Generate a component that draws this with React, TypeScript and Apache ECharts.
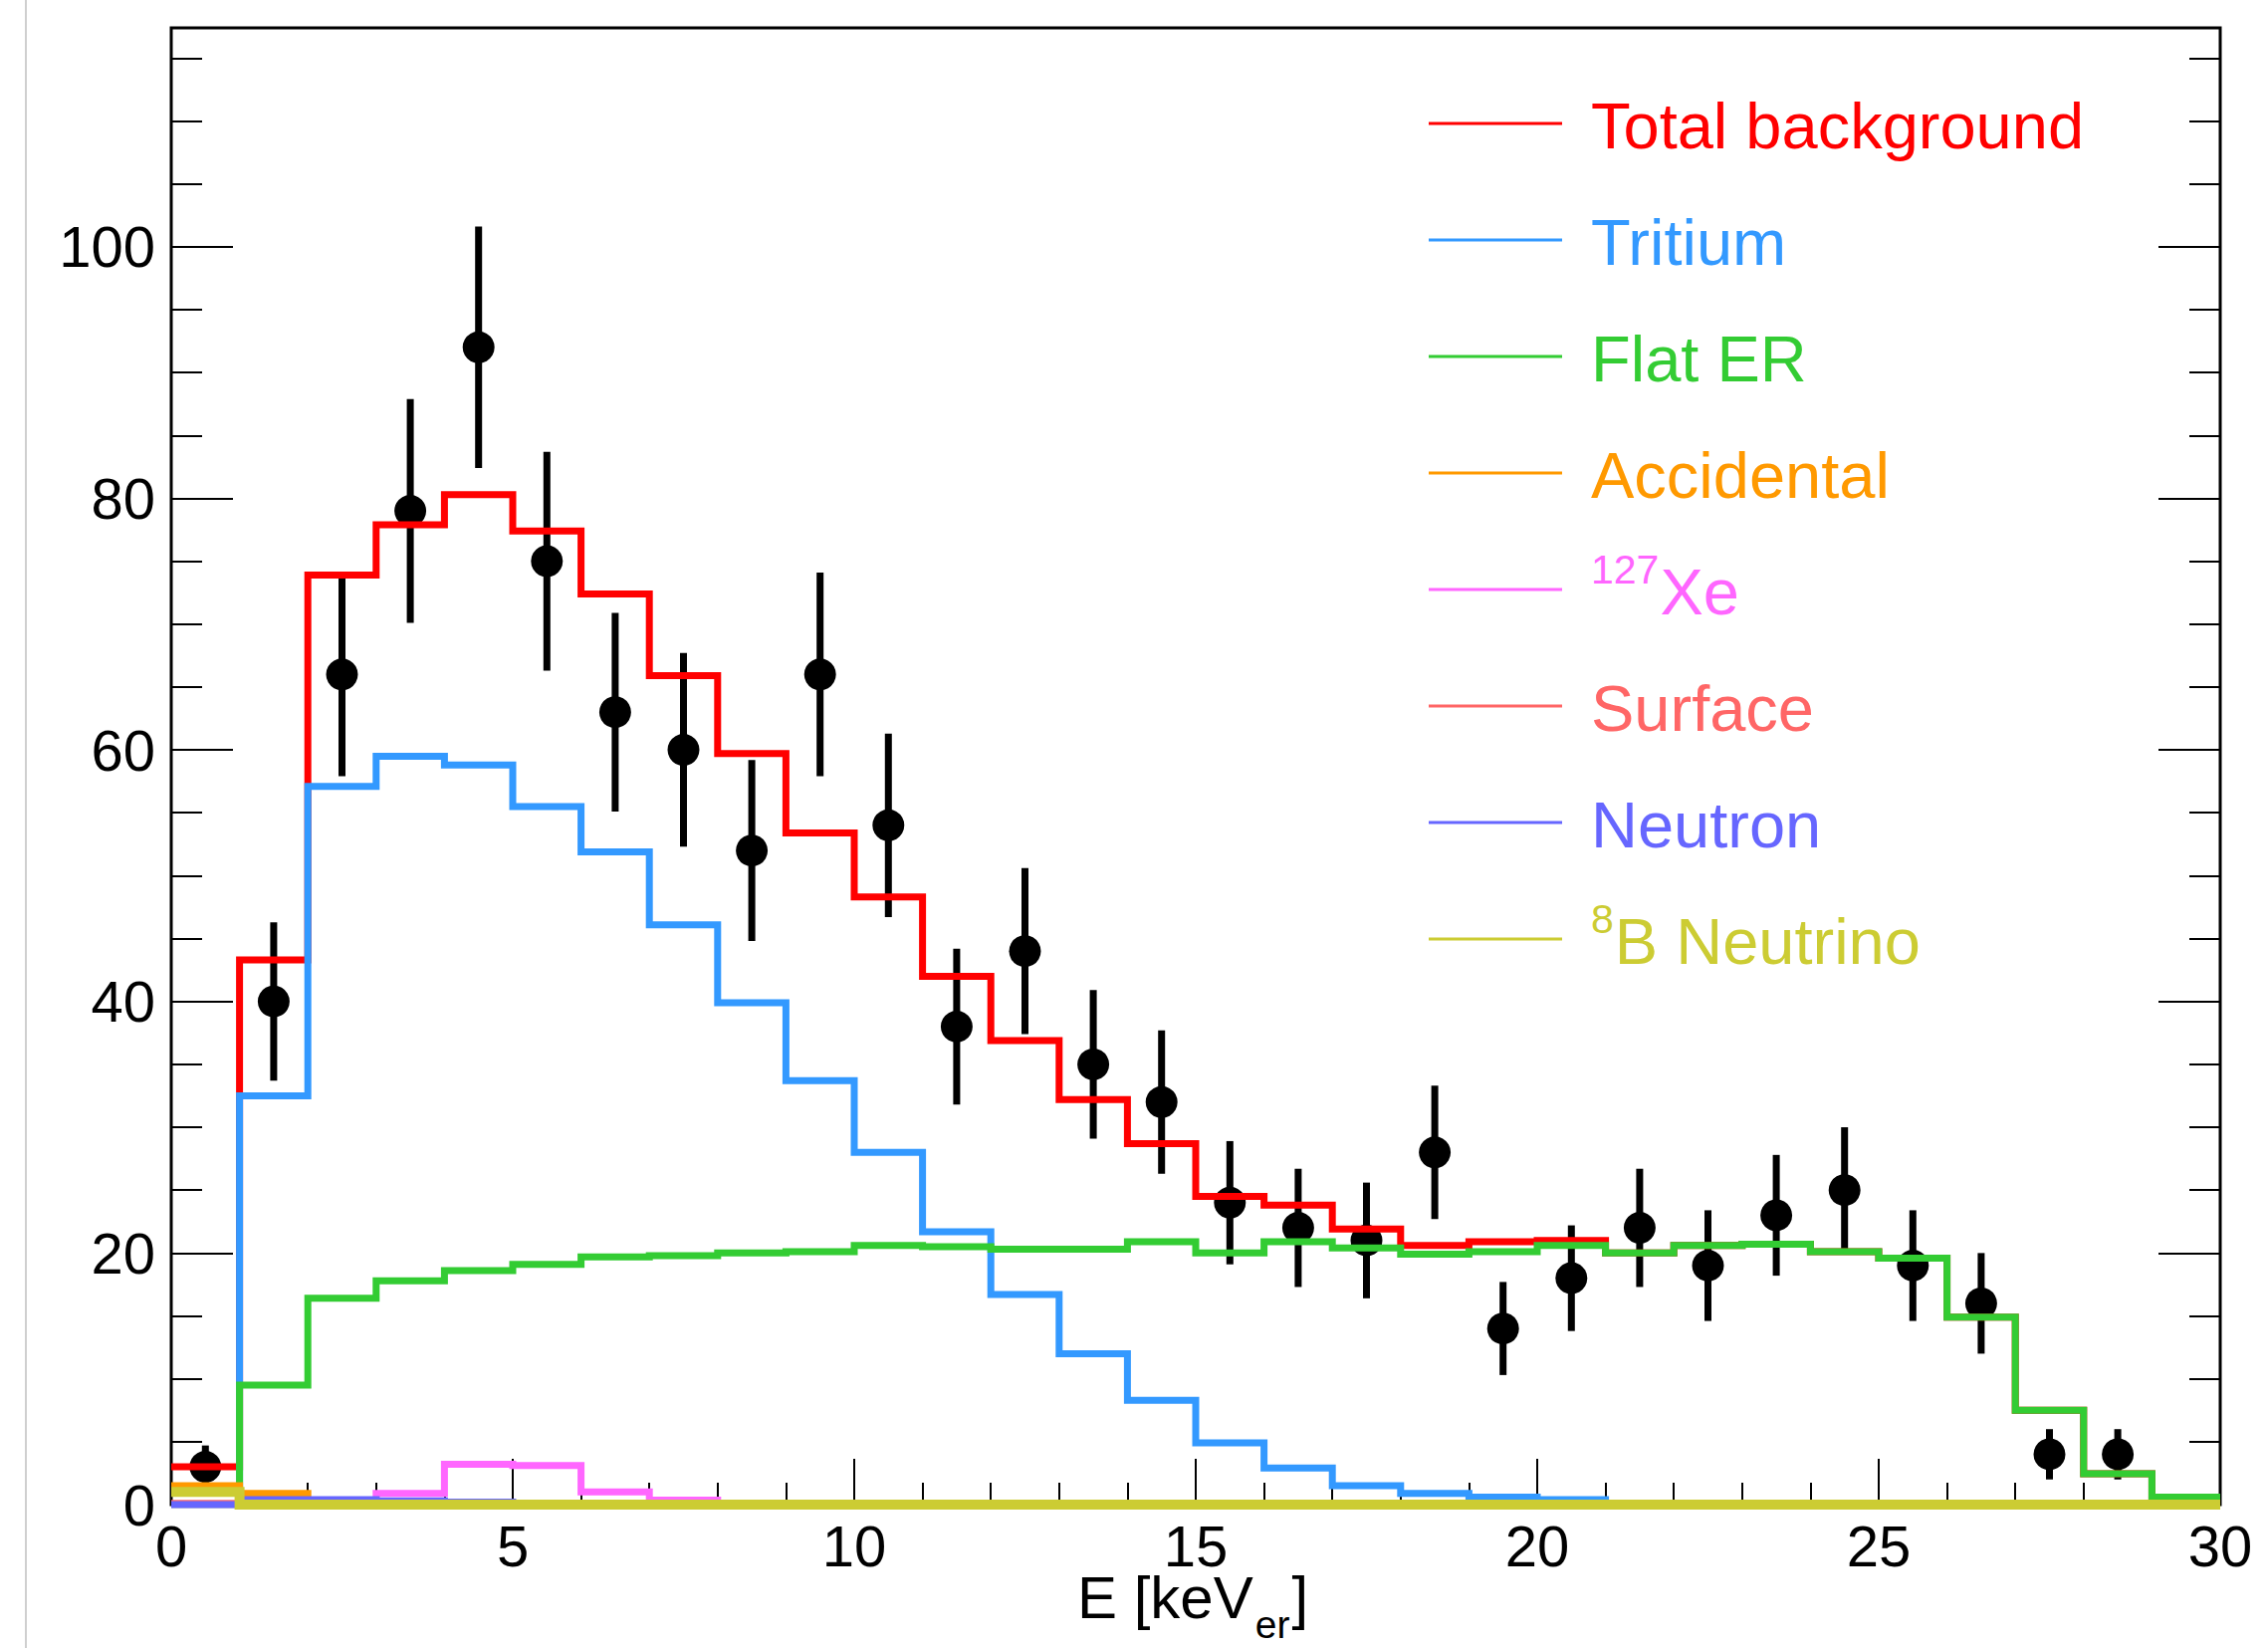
import React, { useEffect, useRef } from "react";
import * as echarts from "echarts";

// ---------------- data ----------------
const binEdges = [0, 1, 2, 3, 4, 5, 6, 7, 8, 9, 10, 11, 12, 13, 14, 15, 16, 17, 18, 19, 20, 21, 22, 23, 24, 25, 26, 27, 28, 29, 30];

const totalBackground = [3.0, 43.3, 73.9, 77.9, 80.3, 77.4, 72.4, 65.9, 59.7, 53.4, 48.3, 42.0, 36.9, 32.2, 28.7, 24.5, 23.8, 21.9, 20.6, 20.9, 21.0, 20.0, 20.6, 20.7, 20.1, 19.6, 14.9, 7.5, 2.45, 0.6];
const tritium = [0, 32.5, 57.1, 59.5, 58.8, 55.5, 51.9, 46.1, 39.9, 33.7, 28.0, 21.7, 16.7, 12.0, 8.3, 4.9, 2.9, 1.5, 0.9, 0.6, 0.4, 0, 0, 0, 0, 0, 0, 0, 0, 0];
const flatER = [0, 9.5, 16.4, 17.8, 18.6, 19.1, 19.7, 19.8, 20.0, 20.1, 20.6, 20.5, 20.3, 20.3, 20.9, 20.0, 20.9, 20.4, 19.9, 20.1, 20.6, 20.0, 20.6, 20.7, 20.1, 19.6, 14.9, 7.5, 2.45, 0.6];
const accidental = [1.5, 0.9, 0, 0, 0, 0, 0, 0, 0, 0, 0, 0, 0, 0, 0, 0, 0, 0, 0, 0, 0, 0, 0, 0, 0, 0, 0, 0, 0, 0];
const xe127 = [0, 0, 0, 0.9, 3.2, 3.1, 1.0, 0.35, 0, 0, 0, 0, 0, 0, 0, 0, 0, 0, 0, 0, 0, 0, 0, 0, 0, 0, 0, 0, 0, 0];
const surface = [0.1, 0.1, 0.1, 0.1, 0.1, 0.1, 0.1, 0.1, 0.1, 0.1, 0.1, 0.1, 0.1, 0.1, 0.1, 0.1, 0.1, 0.1, 0.1, 0.1, 0.1, 0.1, 0.1, 0.1, 0.1, 0.1, 0.1, 0.1, 0.1, 0.1];
const neutron = [0, 0.4, 0.4, 0.3, 0.2, 0.1, 0.1, 0.1, 0.05, 0.05, 0, 0, 0, 0, 0, 0, 0, 0, 0, 0, 0, 0, 0, 0, 0, 0, 0, 0, 0, 0];
const b8Neutrino = [1.0, 0, 0, 0, 0, 0, 0, 0, 0, 0, 0, 0, 0, 0, 0, 0, 0, 0, 0, 0, 0, 0, 0, 0, 0, 0, 0, 0, 0, 0];

const dataCenters = [0.5, 1.5, 2.5, 3.5, 4.5, 5.5, 6.5, 7.5, 8.5, 9.5, 10.5, 11.5, 12.5, 13.5, 14.5, 15.5, 16.5, 17.5, 18.5, 19.5, 20.5, 21.5, 22.5, 23.5, 24.5, 25.5, 26.5, 27.5, 28.5];
const dataCounts = [3, 40, 66, 79, 92, 75, 63, 60, 52, 66, 54, 38, 44, 35, 32, 24, 22, 21, 28, 14, 18, 22, 19, 23, 25, 19, 16, 4, 4];
const dataErrors = [1.7, 6.3, 8.1, 8.9, 9.6, 8.7, 7.9, 7.7, 7.2, 8.1, 7.3, 6.2, 6.6, 5.9, 5.7, 4.9, 4.7, 4.6, 5.3, 3.7, 4.2, 4.7, 4.4, 4.8, 5.0, 4.4, 4.0, 2.0, 2.0];

const legendLabels = ["Total background", "Tritium", "Flat ER", "Accidental", "Xe", "Surface", "Neutron", "B Neutrino"];
const legendSups = ["", "", "", "", "127", "", "", "8"];

const xAxisTitleMain = "E [keV";
const xAxisTitleSub = "er";
const xAxisTitleEnd = "]";

// ---------------- styles ----------------
const FONT = "'Liberation Sans', Arial, Helvetica, sans-serif";
const COLORS = ["#ff0000", "#3399ff", "#33cc33", "#ff9900", "#ff66ff", "#ff6666", "#6666ff", "#cccc33"];
const HIST_VALUES = [totalBackground, tritium, flatER, accidental, xe127, surface, neutron, b8Neutrino];
const HIST_WIDTHS = [7, 7, 7, 7, 7, 7, 7, 10];

const GRID = { left: 172, top: 28, width: 2058, height: 1483 };

function stepData(vals: number[]) {
  return binEdges.map((e, i) => [e, vals[Math.min(i, vals.length - 1)]]);
}

function measure(text: string, font: string, fallbackEm: number, size: number) {
  try {
    const ctx = document.createElement("canvas").getContext("2d");
    if (ctx) {
      ctx.font = font;
      return ctx.measureText(text).width;
    }
  } catch (e) {
    /* ignore */
  }
  return fallbackEm * size;
}

function txt(x: number, y: number, text: string, color: string, size: number, lineHeight?: number) {
  const style: any = {
    text,
    fill: color,
    font: `${size}px ${FONT}`,
    textAlign: "left",
    textVerticalAlign: "middle",
    align: "left",
    verticalAlign: "middle",
  };
  if (lineHeight) style.lineHeight = lineHeight;
  return { type: "text", z: 20, x, y, style };
}

function buildOption() {
  const histSeries = HIST_VALUES.map((vals, k) => ({
    type: "line",
    name: legendSups[k] + legendLabels[k],
    data: stepData(vals),
    step: "end",
    symbol: "none",
    showSymbol: false,
    silent: true,
    color: COLORS[k],
    itemStyle: { color: COLORS[k] },
    lineStyle: { color: COLORS[k], width: HIST_WIDTHS[k], join: "miter", cap: "butt" },
    z: 3,
    xAxisIndex: 0,
    yAxisIndex: 0,
  }));

  const errorData = dataCenters.map((c, i) => [c, dataCounts[i], dataErrors[i]]);

  const errorSeries = {
    type: "custom",
    name: "Data errors",
    silent: true,
    z: 2,
    xAxisIndex: 0,
    yAxisIndex: 0,
    encode: { x: 0, y: 1 },
    data: errorData,
    renderItem: (params: any, api: any) => {
      const x = api.value(0);
      const y = api.value(1);
      const e = api.value(2);
      const top = api.coord([x, y + e]);
      const bot = api.coord([x, y - e]);
      return {
        type: "line",
        shape: { x1: top[0], y1: top[1], x2: bot[0], y2: bot[1] },
        style: { stroke: "#000", lineWidth: 7, lineCap: "butt" },
      };
    },
  };

  const pointSeries = {
    type: "scatter",
    name: "Data",
    silent: true,
    z: 2,
    symbol: "circle",
    symbolSize: 32,
    itemStyle: { color: "#000", opacity: 1 },
    data: dataCenters.map((c, i) => [c, dataCounts[i]]),
  };

  const tickStyle = { color: "#000", width: 2 };
  const yBase = {
    type: "value",
    min: 0,
    max: 117.4,
    axisLine: { show: false },
    splitLine: { show: false },
    minorSplitLine: { show: false },
  };

  const legendGraphics: any[] = [];
  legendLabels.forEach((label, i) => {
    const rowY = 126 + 117 * i;
    const color = COLORS[i];
    legendGraphics.push({
      type: "line",
      z: 20,
      shape: { x1: 1435, y1: rowY - 2, x2: 1569, y2: rowY - 2 },
      style: { stroke: color, lineWidth: 3 },
    });
    const sup = legendSups[i];
    let textX = 1598;
    if (sup) {
      legendGraphics.push(txt(1598, rowY - 22, sup, color, 41));
      textX = 1598 + measure(sup, `41px ${FONT}`, 0.556 * sup.length, 41) + 1;
    }
    legendGraphics.push(txt(textX, rowY, label, color, 65));
  });

  // x-axis title with subscript
  const titleLeft = 1082;
  const mainW = measure(xAxisTitleMain, `60px ${FONT}`, 2.946, 60);
  const subW = measure(xAxisTitleSub, `39px ${FONT}`, 0.889, 39);
  const titleGraphics = [
    txt(titleLeft, 1604, xAxisTitleMain, "#000", 60, 44),
    txt(titleLeft + mainW + 2, 1631, xAxisTitleSub, "#000", 39, 26),
    txt(titleLeft + mainW + subW + 4, 1604, xAxisTitleEnd, "#000", 60, 44),
  ];

  return {
    animation: false,
    backgroundColor: "#ffffff",
    grid: {
      ...GRID,
      show: true,
      borderColor: "#000",
      borderWidth: 3,
      backgroundColor: "transparent",
      containLabel: false,
      outerBoundsMode: "none",
    },
    xAxis: {
      type: "value",
      min: 0,
      max: 30,
      interval: 5,
      axisLine: { show: false },
      axisTick: { show: true, inside: true, length: 46, lineStyle: tickStyle },
      minorTick: { show: true, splitNumber: 5, length: 22, lineStyle: tickStyle },
      splitLine: { show: false },
      minorSplitLine: { show: false },
      axisLabel: { fontSize: 58, lineHeight: 46, fontFamily: FONT, color: "#000", margin: 18 },
    },
    yAxis: [
      {
        ...yBase,
        position: "left",
        interval: 5,
        axisTick: { show: true, inside: true, length: 31, lineStyle: tickStyle },
        axisLabel: {
          show: true,
          fontSize: 58,
          fontFamily: FONT,
          color: "#000",
          margin: 16,
          formatter: (v: number) => (Math.abs(v % 20) < 1e-9 ? String(v) : ""),
        },
      },
      {
        ...yBase,
        position: "left",
        interval: 20,
        axisTick: { show: true, inside: true, length: 62, lineStyle: tickStyle },
        axisLabel: { show: false },
      },
      {
        ...yBase,
        position: "right",
        interval: 5,
        axisTick: { show: true, inside: true, length: 31, lineStyle: tickStyle },
        axisLabel: { show: false },
      },
      {
        ...yBase,
        position: "right",
        interval: 20,
        axisTick: { show: true, inside: true, length: 62, lineStyle: tickStyle },
        axisLabel: { show: false },
      },
    ],
    series: [errorSeries, pointSeries, ...histSeries],
    graphic: [
      {
        type: "line",
        z: 1,
        shape: { x1: 26, y1: 0, x2: 26, y2: 1655 },
        style: { stroke: "#cfcfcf", lineWidth: 2 },
      },
      ...legendGraphics,
      ...titleGraphics,
    ],
  };
}

export default function App() {
  const ref = useRef<HTMLDivElement>(null);
  useEffect(() => {
    if (!ref.current) return;
    const chart = echarts.init(ref.current, undefined, { renderer: "svg" });
    chart.setOption(buildOption() as any);
    return () => {
      chart.dispose();
    };
  }, []);
  return (
    <div
      ref={ref}
      style={{ position: "absolute", left: 0, top: 0, width: 2278, height: 1655, background: "#fff" }}
    />
  );
}
